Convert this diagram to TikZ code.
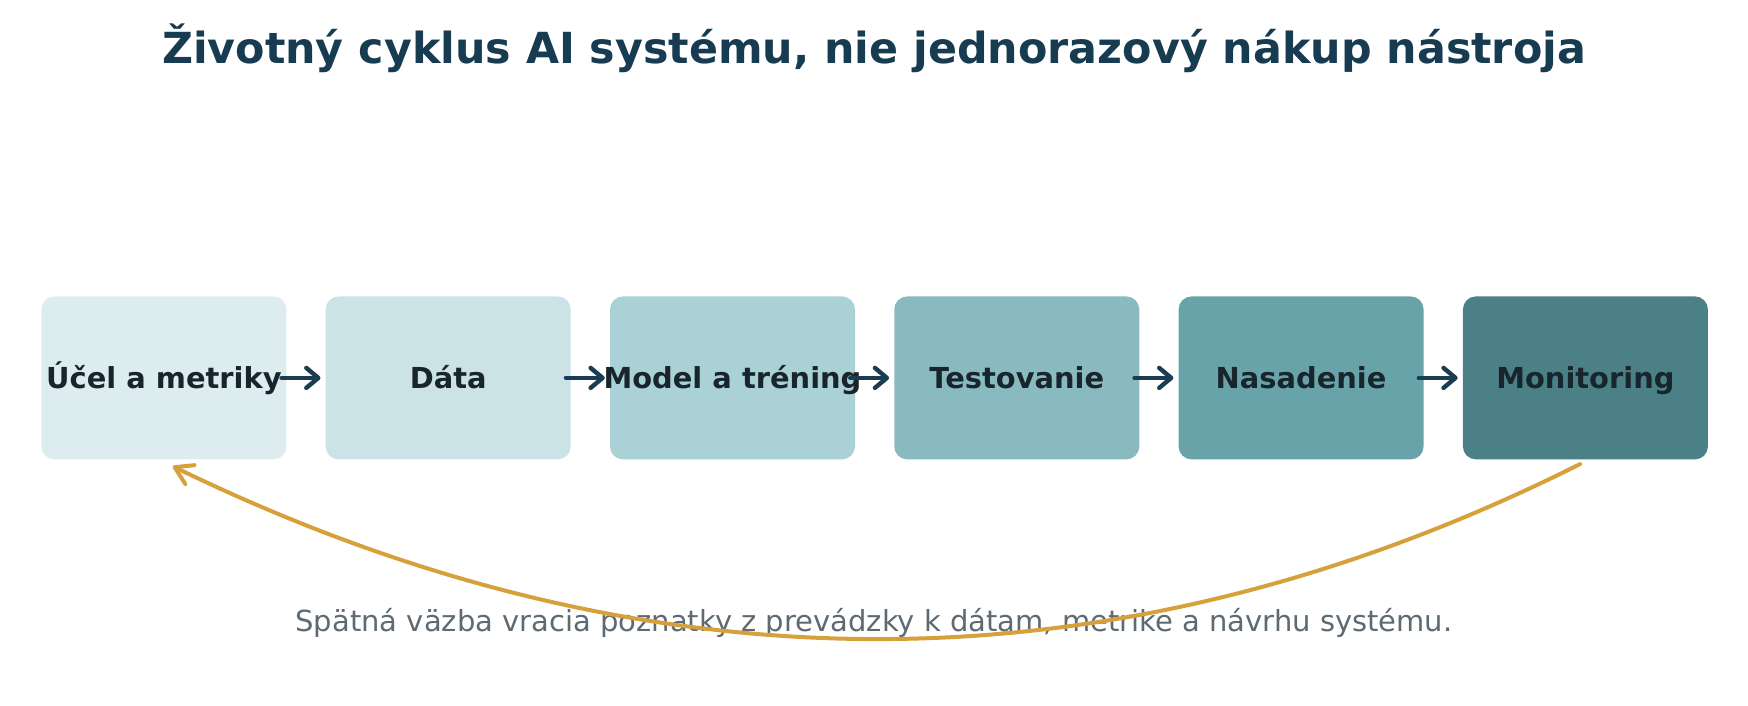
\documentclass[tikz,border=0pt]{standalone}
\usepackage{fontspec}
\setmainfont{DejaVu Sans}
\usepackage{tikz}
\usetikzlibrary{arrows.meta}
\definecolor{titleblue}{HTML}{173C52}
\definecolor{arrowblue}{HTML}{1B3D52}
\definecolor{boxtext}{HTML}{18252C}
\definecolor{capgray}{HTML}{5E6A72}
\definecolor{fbgold}{HTML}{D6A03B}
\definecolor{stepA}{HTML}{DDECEF}
\definecolor{stepB}{HTML}{CBE3E7}
\definecolor{stepC}{HTML}{AAD2D6}
\definecolor{stepD}{HTML}{88BAC0}
\definecolor{stepE}{HTML}{68A3A9}
\definecolor{stepF}{HTML}{4C8087}
\tikzstyle{stage}=[rounded corners=13pt, minimum width=245pt, minimum height=163pt, inner sep=0pt, text height=27pt, text depth=6pt, text=boxtext, font=\fontsize{28.9}{34}\selectfont\bfseries]
\tikzstyle{flow}=[draw=arrowblue, line width=4.4pt, line cap=round, -{Straight Barb[length=12pt,width=20pt,round]}]
\tikzstyle{feedback}=[draw=fbgold, line width=4pt, line cap=round, -{Straight Barb[length=17pt,width=21pt,round]}]

\begin{document}
\begin{tikzpicture}[x=1pt, y=1pt]
            \useasboundingbox (0,0) rectangle (1748,705);
            \node [font=\fontsize{42.8}{48}\selectfont\bfseries, text=titleblue] (title) at (874,657) {Životný cyklus AI systému, nie jednorazový nákup nástroja};
            \node [stage, fill=stepA] (ucel) at (163.9,327.1) {Účel a metriky};
            \node [stage, fill=stepB, right of=ucel, node distance=284.3pt] (data) {Dáta};
            \node [stage, fill=stepC, right of=data, node distance=284.3pt] (model) {\makebox[0pt]{Model a tréning}};
            \node [stage, fill=stepD, right of=model, node distance=284.3pt] (test) {Testovanie};
            \node [stage, fill=stepE, right of=test, node distance=284.3pt] (nasad) {Nasadenie};
            \node [stage, fill=stepF, right of=nasad, node distance=284.3pt] (monit) {Monitoring};
            \node [font=\fontsize{29}{34}\selectfont, text=capgray] (caption) at (874,82) {Spätná väzba vracia poznatky z prevádzky k dátam, metrike a návrhu systému.};
            \draw[flow] ([xshift=-5pt]ucel.east) -- ([xshift=-5pt]data.west);
            \draw[flow] ([xshift=-5pt]data.east) -- ([xshift=-5pt]model.west);
            \draw[flow] ([xshift=-5pt]model.east) -- ([xshift=-5pt]test.west);
            \draw[flow] ([xshift=-5pt]test.east) -- ([xshift=-5pt]nasad.west);
            \draw[flow] ([xshift=-5pt]nasad.east) -- ([xshift=-5pt]monit.west);
            \coordinate (fbstart) at ([xshift=-5.4pt,yshift=-4.5pt]monit.south);
            \coordinate (fbend) at ([xshift=8.9pt,yshift=-6.7pt]ucel.south);
            \draw[feedback] (fbstart) .. controls (1116.7,8.6) and (647.6,7.9) .. (fbend);
        \end{tikzpicture}
\end{document}
